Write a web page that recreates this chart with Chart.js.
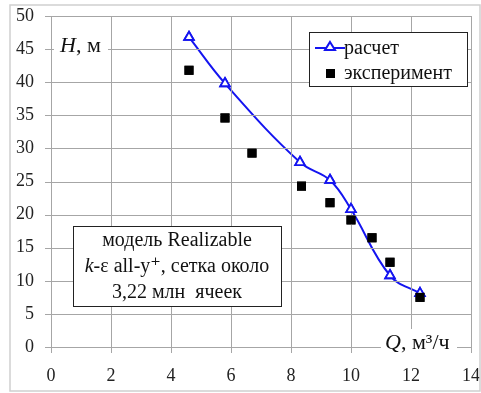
<!DOCTYPE html>
<html>
<head>
<meta charset="utf-8">
<script src="https://cdn.jsdelivr.net/npm/chart.js@4"></script>
<style>
  html, body { margin: 0; padding: 0; background: #fff; }
  #wrap { position: relative; width: 481px; height: 393px; }
</style>
</head>
<body>
<div id="wrap"><canvas id="chart" width="481" height="393"></canvas></div>
<script>
// ── Data ─────────────────────────────────────────────────
const calcQ = [4.6, 5.8, 8.3, 9.3, 10.0, 11.3, 12.3];
const calcH = [46.8, 39.8, 27.9, 25.2, 20.8, 10.8, 8.1];
const expQ = [4.6, 5.8, 6.7, 8.35, 9.3, 10.0, 10.7, 11.3, 12.3];
const expH = [41.8, 34.6, 29.3, 24.3, 21.8, 19.2, 16.5, 12.8, 7.5];

const legendLabels = ["расчет", "эксперимент"];
const noteLines = ["модель Realizable", "-ε all-y⁺, сетка около", "3,22 млн  ячеек"];

const SERIF = "'Liberation Serif', 'DejaVu Serif', serif";
const GRID = "#a6a6a6";
const BLUE = "#1414f0";

// ── Grid + tick marks from the scales' own ticks ─────────
// drawn after the datasets, then the markers are put back on top
const gridPlugin = {
  id: "excelGrid",
  afterDatasetsDraw: (chart) => {
    const { ctx, chartArea: a, scales } = chart;
    const sx = scales.x, sy = scales.y;
    ctx.save();
    ctx.setLineDash([]);
    ctx.globalAlpha = 1;
    ctx.globalCompositeOperation = "source-over";
    ctx.strokeStyle = GRID;
    ctx.lineWidth = 1;
    ctx.beginPath();
    sx.ticks.forEach(t => {
      const px = Math.round(sx.getPixelForValue(t.value)) + 0.5;
      ctx.moveTo(px, a.top);
      ctx.lineTo(px, a.bottom + 6);
    });
    sy.ticks.forEach(t => {
      const py = Math.round(sy.getPixelForValue(t.value)) + 0.5;
      ctx.moveTo(a.left - 6, py);
      ctx.lineTo(a.right, py);
    });
    ctx.stroke();
    ctx.restore();

    for (let i = chart.data.datasets.length - 1; i >= 0; i--) {
      const meta = chart.getDatasetMeta(i);
      meta.data.forEach(p => p.draw(ctx, a));
    }
  }
};

// ── Decorations: frame, legend, note box, axis titles ───
const decorPlugin = {
  id: "decor",
  afterDraw: (chart) => {
    const { ctx } = chart;
    ctx.save();
    ctx.setLineDash([]);
    ctx.strokeStyle = "#cfcfcf";
    ctx.lineWidth = 1.5;
    ctx.strokeRect(10, 5, 470, 386);
    ctx.textBaseline = "middle";

    // axis title H
    ctx.fillStyle = "#fff";
    ctx.fillRect(54, 33, 54, 25);
    ctx.fillStyle = "#111";
    ctx.font = "italic 22px " + SERIF;
    ctx.textAlign = "left";
    ctx.fillText("H", 60, 46);
    let w = ctx.measureText("H").width;
    ctx.font = "22px " + SERIF;
    ctx.fillText(", м", 60 + w, 46);

    // axis title Q
    ctx.fillStyle = "#fff";
    ctx.fillRect(381, 329, 76, 26);
    ctx.fillStyle = "#111";
    ctx.font = "italic 22px " + SERIF;
    ctx.fillText("Q", 385, 343);
    w = ctx.measureText("Q").width;
    ctx.font = "22px " + SERIF;
    ctx.fillText(", м³/ч", 385 + w, 343);

    // legend box
    ctx.fillStyle = "#fff";
    ctx.fillRect(309, 32, 158, 54);
    ctx.strokeStyle = "#222";
    ctx.lineWidth = 1;
    ctx.strokeRect(309.5, 32.5, 158, 54);
    ctx.strokeStyle = BLUE;
    ctx.lineWidth = 2;
    ctx.beginPath();
    ctx.moveTo(315, 48);
    ctx.lineTo(345, 48);
    ctx.stroke();
    ctx.fillStyle = "#fff";
    ctx.beginPath();
    ctx.moveTo(330, 42);
    ctx.lineTo(335, 50);
    ctx.lineTo(325, 50);
    ctx.closePath();
    ctx.fill();
    ctx.stroke();
    ctx.fillStyle = "#000";
    ctx.fillRect(326, 69, 9, 9);
    ctx.fillStyle = "#111";
    ctx.font = "20px " + SERIF;
    ctx.fillText(legendLabels[0], 344, 49);
    ctx.fillText(legendLabels[1], 344, 74);

    // note box
    ctx.fillStyle = "#fff";
    ctx.fillRect(73, 226, 208, 80);
    ctx.strokeStyle = "#222";
    ctx.lineWidth = 1;
    ctx.strokeRect(73.5, 226.5, 208, 80);
    ctx.fillStyle = "#111";
    ctx.textAlign = "center";
    ctx.font = "20px " + SERIF;
    ctx.fillText(noteLines[0], 177, 241);
    ctx.fillText(noteLines[2], 177, 293);
    // second line starts with an italic k
    ctx.font = "italic 20px " + SERIF;
    const kw = ctx.measureText("k").width;
    ctx.font = "20px " + SERIF;
    const rw = ctx.measureText(noteLines[1]).width;
    const x0 = 177 - (kw + rw) / 2;
    ctx.textAlign = "left";
    ctx.font = "italic 20px " + SERIF;
    ctx.fillText("k", x0, 267);
    ctx.font = "20px " + SERIF;
    ctx.fillText(noteLines[1], x0 + kw, 267);
    ctx.restore();
  }
};

new Chart(document.getElementById("chart"), {
  type: "scatter",
  data: {
    datasets: [
      // first dataset is drawn last, so the squares sit on top
      {
        label: legendLabels[1],
        data: expQ.map((q, i) => ({ x: q, y: expH[i] })),
        showLine: false,
        pointStyle: "rect",
        pointRadius: 6.4,
        backgroundColor: "#000",
        borderColor: "#000",
        borderWidth: 0
      },
      {
        label: legendLabels[0],
        data: calcQ.map((q, i) => ({ x: q, y: calcH[i] })),
        showLine: true,
        tension: 0.4,
        borderColor: BLUE,
        borderWidth: 2,
        pointStyle: "triangle",
        pointRadius: 5.5,
        pointBorderWidth: 1.8,
        pointBackgroundColor: "#fff",
        pointBorderColor: BLUE
      }
    ]
  },
  plugins: [gridPlugin, decorPlugin],
  options: {
    responsive: false,
    animation: false,
    layout: { padding: { left: 0, top: 16, right: 10, bottom: 0 } },
    plugins: { legend: { display: false }, tooltip: { enabled: false } },
    scales: {
      x: {
        min: 0,
        max: 14,
        afterFit: (s) => { s.height = 46; s.paddingLeft = 0; s.paddingRight = 0; },
        grid: { color: "rgba(0,0,0,0)", tickLength: 6 },
        border: { display: false },
        ticks: {
          stepSize: 2,
          padding: 12,
          color: "#222",
          font: { family: SERIF, size: 18 }
        }
      },
      y: {
        min: 0,
        max: 50,
        afterFit: (s) => { s.width = 51; s.paddingTop = 0; s.paddingBottom = 0; },
        grid: { color: "rgba(0,0,0,0)", tickLength: 6 },
        border: { display: false },
        ticks: {
          stepSize: 5,
          padding: 11,
          color: "#222",
          font: { family: SERIF, size: 18 }
        }
      }
    }
  }
});
</script>
</body>
</html>
